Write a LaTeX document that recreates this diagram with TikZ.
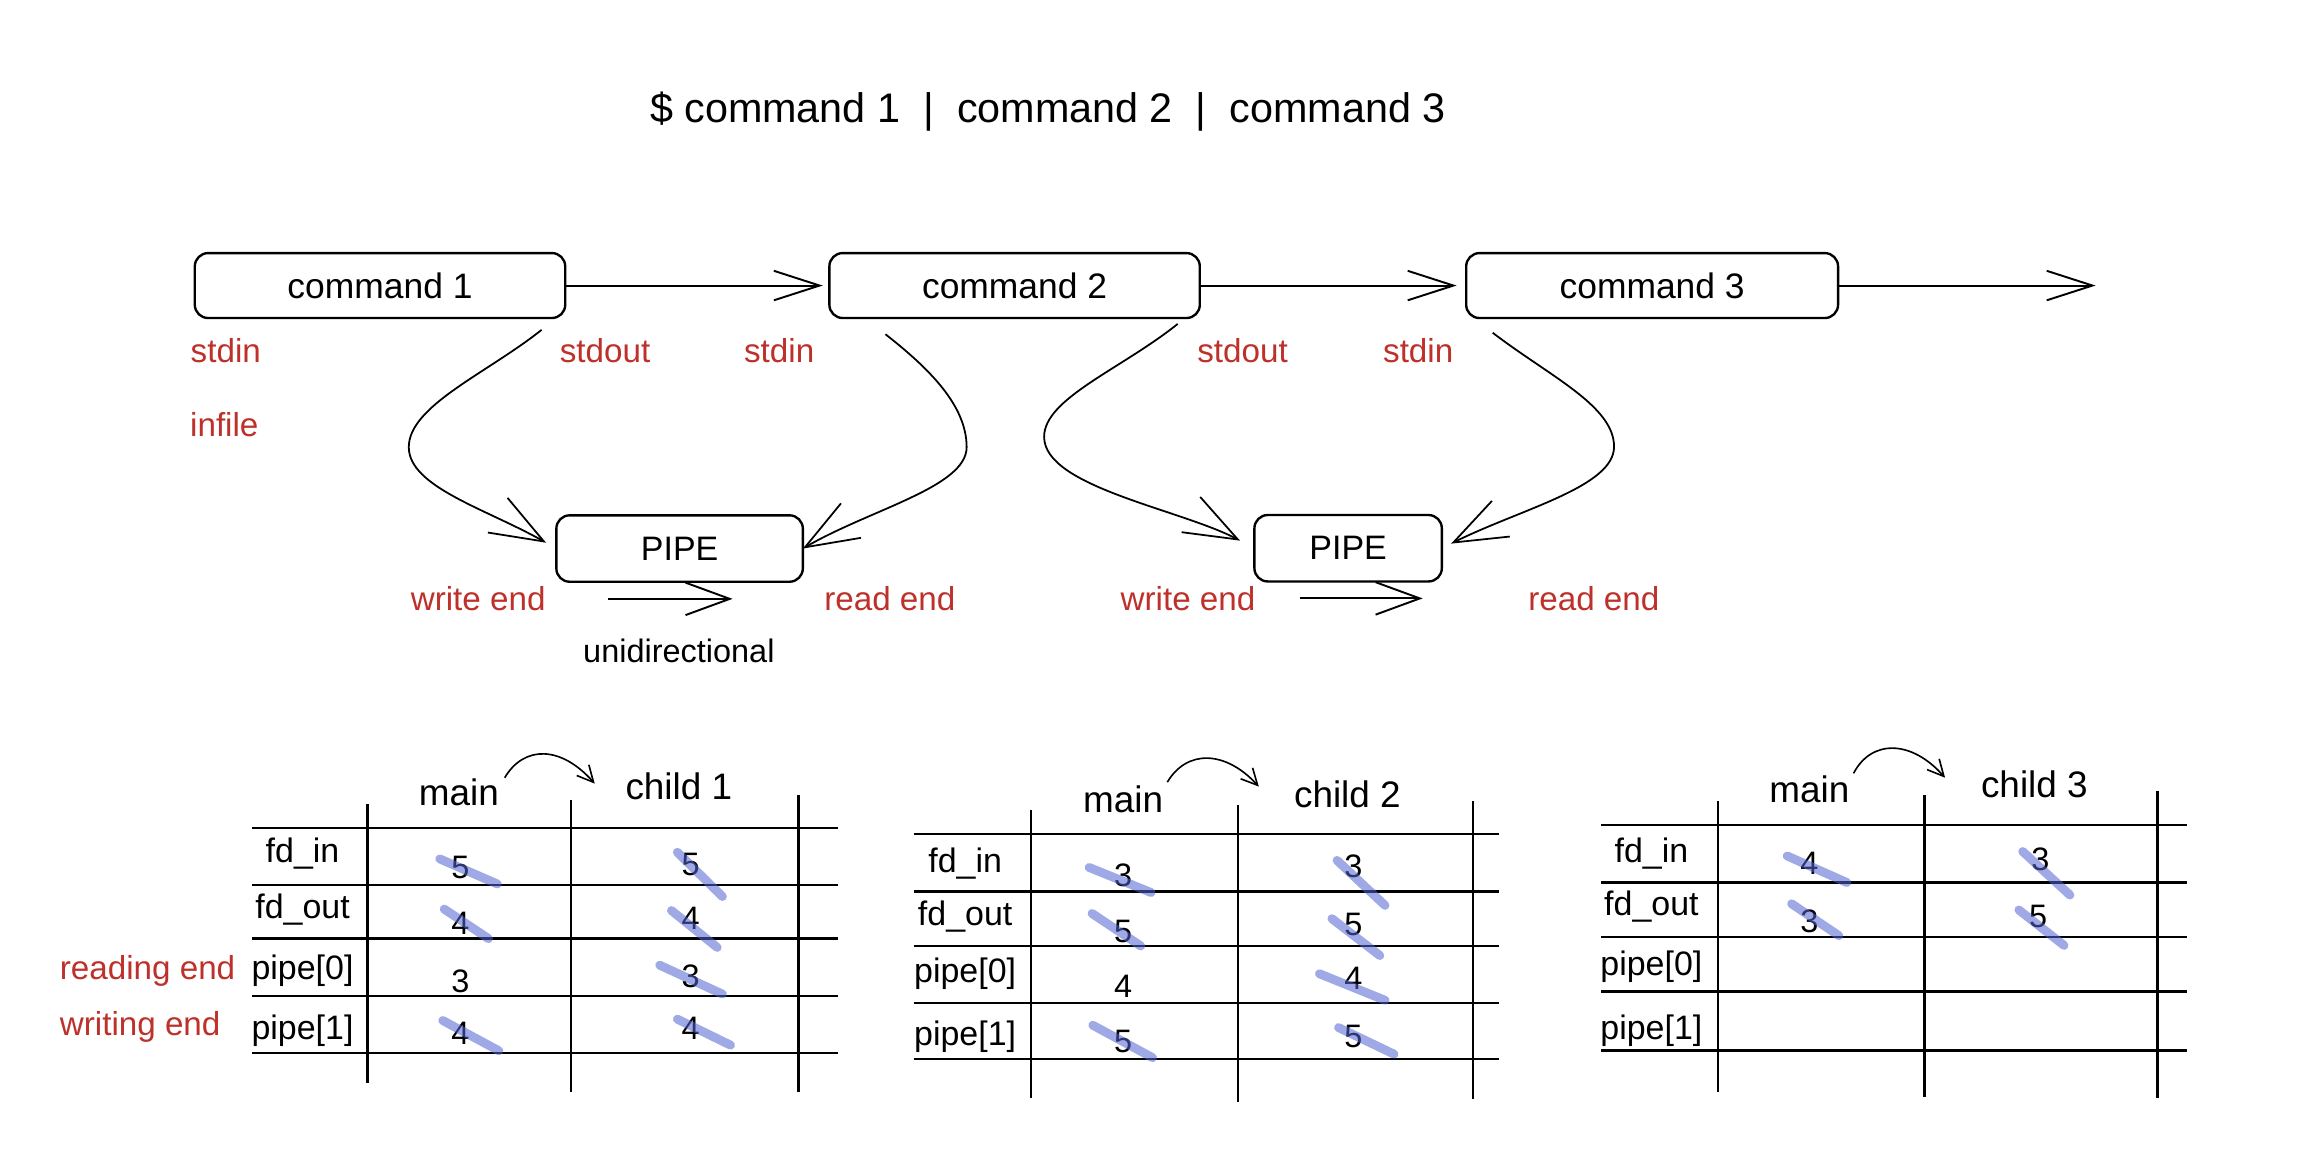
\documentclass[tikz,border=0pt]{standalone}
\usepackage{fontspec}
\setmainfont{Liberation Sans}
\usetikzlibrary{arrows.meta,calc}
\definecolor{lblred}{RGB}{190,48,42}
\definecolor{strikeblue}{RGB}{80,100,210}
\newcommand\myfs[1]{\fontsize{#1}{#1}\selectfont}
\newcommand\strk[3]{\draw[strikeline] ($(#1)+(#2)$) -- ($(#1)+(#3)$);}
\begin{document}
\begin{tikzpicture}[x=1pt,y=-1pt,
  txt/.style={inner sep=0pt, outer sep=0pt, text height=0.72em, text depth=0.2em, yshift=-6pt},
  cmdbox/.style={draw, line width=1.6pt, rounded corners=9pt, inner sep=0pt, outer sep=0pt,
    minimum height=44pt, font=\myfs{24}},
  pipebox/.style={cmdbox, minimum height=45pt, font=\myfs{23}},
  titletxt/.style={txt, yshift=-2pt, font=\myfs{28}},
  lbl/.style={txt, text=lblred, font=\myfs{22.5}},
  blk/.style={txt, font=\myfs{22}},
  hdr/.style={txt, font=\myfs{25}},
  rowl/.style={txt, font=\myfs{23}},
  dig/.style={inner sep=0pt, outer sep=0pt, text height=0.716em, text depth=0pt, yshift=-5pt, font=\myfs{22}},
  tline/.style={line width=1.7pt},
  strikeline/.style={line width=6pt, line cap=round, draw=strikeblue, draw opacity=0.55},
  cmdarrow/.style={line width=1.3pt, -{Straight Barb[length=31pt, width=20pt, line width=1.3pt]}},
  curvearrow/.style={line width=1.2pt, -{Straight Barb[length=36pt, width=27pt, line width=1.2pt]}},
  uniarrow/.style={line width=1.3pt, -{Straight Barb[length=30pt, width=22pt, line width=1.3pt]}},
  smallarrow/.style={line width=1.1pt, -{Straight Barb[length=11pt, width=11pt, line width=1.1pt]}}
]
\useasboundingbox (0,0) rectangle (1568,783);
\fill[white] (0,0) rectangle (1568,783);

% title
\node[titletxt] (title) at (710,72.3) {\$ command 1~~|~~command 2~~|~~command 3};

% command boxes
\node[cmdbox, minimum width=251pt] (c1) at (257.5,193.5) {command 1};
\node[cmdbox, minimum width=251pt] (c2) at (687.5,193.5) {command 2};
\node[cmdbox, minimum width=252pt] (c3) at (1119.5,193.5) {command 3};
\coordinate (out3) at (1420,193.5);
\draw[cmdarrow, shorten >=4.5pt] (c1) -- (c2);
\draw[cmdarrow, shorten >=6.5pt] (c2) -- (c3);
\draw[cmdarrow] (c3) -- (out3);

% pipes
\node[pipebox, minimum width=167pt] (p1) at (460.5,371.7) {PIPE};
\node[pipebox, minimum width=127pt] (p2) at (913.5,371.5) {PIPE};

% red labels
\node[lbl] (in1) at (153,237) {stdin};
\node[lbl] (infile) at (152,287) {infile};
\node[lbl] (out1) at (410,237) {stdout};
\node[lbl] (in2) at (528,237) {stdin};
\node[lbl] (out2) at (842,237) {stdout};
\node[lbl] (in3) at (961,237) {stdin};
\node[lbl] (we1) at (324,405) {write end};
\node[lbl] (re1) at (603,405) {read end};
\node[lbl] (we2) at (805,405) {write end};
\node[lbl] (re2) at (1080,405) {read end};
\node[blk] (uni) at (460,440.5) {unidirectional};

% curves to pipes
\coordinate (s1) at ($(c1.south east)+(-16,8)$);
\coordinate (s2) at ($(c2.south west)+(38,11)$);
\coordinate (s3) at ($(c2.south east)+(-15,4)$);
\coordinate (s4) at ($(c3.south west)+(18,10)$);
\draw[curvearrow, shorten >=8pt] (s1) .. controls (330,253) and (277,275) .. (277,303)
  .. controls (277,330) and (330,345) .. (p1.west);
\draw[curvearrow] (s2) .. controls (630,250) and (655,275) .. (655,303)
  .. controls (655,330) and (590,345) .. (p1.east);
\draw[curvearrow, shorten >=11pt] (s3) .. controls (760,250) and (707.5,270) .. (707.5,296)
  .. controls (707.5,330) and (800,345) .. (p2.west);
\draw[curvearrow, shorten >=7pt] (s4) .. controls (1050,255) and (1093.7,275) .. (1093.7,302.7)
  .. controls (1093.7,330) and (1030,345) .. (p2.east);

% unidirectional arrows
\coordinate (ua1) at (412,405.8);
\coordinate (ub1) at (496.4,405.8);
\coordinate (ua2) at (881,405.5);
\coordinate (ub2) at (964,405.5);
\draw[uniarrow] (ua1) -- (ub1);
\draw[uniarrow] (ua2) -- (ub2);

% side labels
\node[lbl] (rd) at (100,655) {reading end};
\node[lbl] (wr) at (95,693) {writing end};

% ---------- table 1 ----------
\foreach \yy in {561,599.6,636,675,713.5} \draw[tline] (171,\yy) -- (568,\yy);
\draw[tline] (249,545) -- (249,734);
\draw[tline] (387,542) -- (387,740);
\draw[tline] (541,539) -- (541,740);
\node[hdr] (m1) at (311,537.5) {main};
\node[hdr] (ch1) at (460,533) {child 1};
\coordinate (h1a) at (342,527);
\coordinate (h1b) at (403,531);
\draw[smallarrow] (h1a) .. controls (355,505) and (380,505) .. (h1b);
\node[rowl] (r11) at (205,576) {fd\_in};
\node[rowl] (r12) at (205,614) {fd\_out};
\node[rowl] (r13) at (205,655) {pipe[0]};
\node[rowl] (r14) at (205,695.6) {pipe[1]};
\node[dig] (a11) at (312,587) {5};
\node[dig] (a12) at (312,624.5) {4};
\node[dig] (a13) at (312,664) {3};
\node[dig] (a14) at (312,699) {4};
\node[dig] (b11) at (468,584.5) {5};
\node[dig] (b12) at (468,621) {4};
\node[dig] (b13) at (468,660.6) {3};
\node[dig] (b14) at (468,695.6) {4};
\strk{a11}{-14,-10}{25,7}
\strk{a12}{-11,-13.5}{19,6.5}
\strk{a14}{-12,-12.5}{26,8}
\strk{b11}{-9,-12}{21.5,18}
\strk{b12}{-13,-9}{18,16}
\strk{b13}{-21,-11.6}{21.5,8}
\strk{b14}{-9,-10}{27,7.6}

% ---------- table 2 ----------
\foreach \yy in {565,604,641,679.6,717.6} \draw[tline] (619,\yy) -- (1016,\yy);
\draw[tline] (698.6,549) -- (698.6,744);
\draw[tline] (839,545.5) -- (839,746.5);
\draw[tline] (998,543) -- (998,745);
\node[hdr] (m2) at (761,542) {main};
\node[hdr] (ch2) at (913,538.8) {child 2};
\coordinate (h2a) at (791,530);
\coordinate (h2b) at (853,533);
\draw[smallarrow] (h2a) .. controls (804,508) and (830,508) .. (h2b);
\node[rowl] (r21) at (654,582.7) {fd\_in};
\node[rowl] (r22) at (654,618.7) {fd\_out};
\node[rowl] (r23) at (654,657) {pipe[0]};
\node[rowl] (r24) at (654,700) {pipe[1]};
\node[dig] (a21) at (761,591.8) {3};
\node[dig] (a22) at (761,630) {5};
\node[dig] (a23) at (761,667.5) {4};
\node[dig] (a24) at (761,704.7) {5};
\node[dig] (b21) at (917,586) {3};
\node[dig] (b22) at (917,625.5) {5};
\node[dig] (b23) at (917,661.8) {4};
\node[dig] (b24) at (917,701.3) {5};
\strk{a21}{-23,-9}{19,8}
\strk{a22}{-21,-16}{12,6}
\strk{a24}{-20.5,-15}{20,7}
\strk{b21}{-11,-8}{21.5,22.5}
\strk{b22}{-14.5,-8}{18,17}
\strk{b23}{-23,-7}{21.5,11}
\strk{b24}{-10,-10}{27.6,8}

% ---------- table 3 ----------
\foreach \yy in {559,598,635,672,712} \draw[tline] (1085,\yy) -- (1482,\yy);
\draw[tline] (1164,543) -- (1164,740);
\draw[tline] (1304,539) -- (1304,743);
\draw[tline] (1462,536) -- (1462,744);
\node[hdr] (m3) at (1226,535) {main};
\node[hdr] (ch3) at (1378.5,532) {child 3};
\coordinate (h3a) at (1256,524);
\coordinate (h3b) at (1318,527);
\draw[smallarrow] (h3a) .. controls (1268,501) and (1295,501) .. (h3b);
\node[rowl] (r31) at (1119,576) {fd\_in};
\node[rowl] (r32) at (1119,612) {fd\_out};
\node[rowl] (r33) at (1119,652.7) {pipe[0]};
\node[rowl] (r34) at (1119,695.7) {pipe[1]};
\node[dig] (a31) at (1226,584) {4};
\node[dig] (a32) at (1226,623.4) {3};
\node[dig] (b31) at (1382.6,581.5) {3};
\node[dig] (b32) at (1381,620) {5};
\strk{a31}{-15,-9}{25.4,9}
\strk{a32}{-12,-16}{20,5.6}
\strk{b31}{-12,-9.5}{20,20}
\strk{b32}{-13,-8.4}{17.6,15.6}
\end{tikzpicture}
\end{document}
